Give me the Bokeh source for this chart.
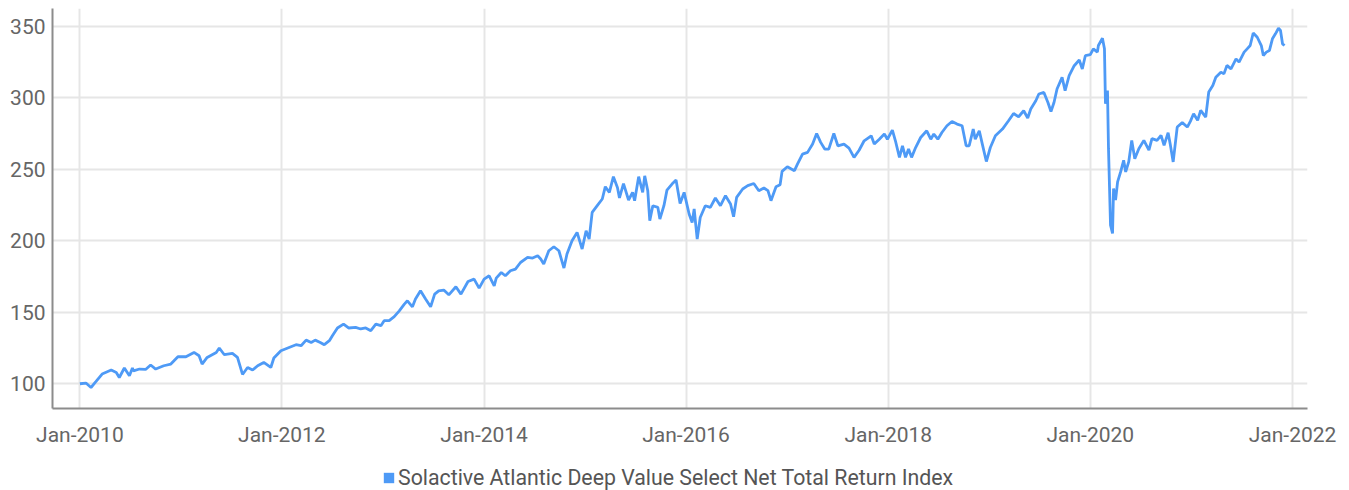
from datetime import datetime, timedelta
from bokeh.plotting import figure
from bokeh.layouts import column
from bokeh.models import (Range1d, FixedTicker, DatetimeTickFormatter, Legend, LegendItem,
                          ColumnDataSource)
from bokeh.embed import file_html
from bokeh.resources import INLINE

# ---------------- data (decimal year, index level) ----------------
series_name = "Solactive Atlantic Deep Value Select Net Total Return Index"

t_years = [
    2010.00, 2010.06, 2010.11, 2010.16, 2010.22, 2010.31, 2010.36, 2010.39, 2010.44, 2010.49,
    2010.52, 2010.53, 2010.59, 2010.65, 2010.70, 2010.75, 2010.83, 2010.90, 2010.97, 2011.05,
    2011.13, 2011.18, 2011.21, 2011.26, 2011.35, 2011.38, 2011.43, 2011.51, 2011.56, 2011.61,
    2011.66, 2011.71, 2011.76, 2011.82, 2011.89, 2011.92, 2011.99,
    2012.09, 2012.14, 2012.19, 2012.24, 2012.29, 2012.33, 2012.38, 2012.42, 2012.47, 2012.50,
    2012.55, 2012.61, 2012.66, 2012.73, 2012.78, 2012.83, 2012.88, 2012.93, 2012.98,
    2013.01, 2013.06, 2013.11, 2013.16, 2013.21, 2013.24, 2013.29, 2013.32, 2013.37, 2013.42,
    2013.47, 2013.51, 2013.55, 2013.60, 2013.65, 2013.72, 2013.77, 2013.84, 2013.90, 2013.95,
    2014.00, 2014.05, 2014.10, 2014.12, 2014.17, 2014.21, 2014.26, 2014.31, 2014.36, 2014.43,
    2014.48, 2014.53, 2014.56, 2014.59, 2014.64, 2014.69, 2014.74, 2014.79, 2014.82, 2014.87,
    2014.92, 2014.97,
    2015.01, 2015.04, 2015.07, 2015.12, 2015.17, 2015.20, 2015.24, 2015.28, 2015.32, 2015.34,
    2015.38, 2015.43, 2015.47, 2015.49, 2015.53, 2015.57, 2015.59, 2015.62, 2015.64, 2015.67,
    2015.72, 2015.74, 2015.78, 2015.81, 2015.86, 2015.90, 2015.94, 2015.98,
    2016.03, 2016.06, 2016.08, 2016.11, 2016.14, 2016.19, 2016.24, 2016.29, 2016.34, 2016.39,
    2016.44, 2016.47, 2016.50, 2016.56, 2016.61, 2016.67, 2016.72, 2016.77, 2016.81, 2016.84,
    2016.89, 2016.93, 2016.95,
    2017.00, 2017.07, 2017.10, 2017.15, 2017.20, 2017.25, 2017.29, 2017.33, 2017.37, 2017.41,
    2017.46, 2017.50, 2017.56, 2017.61, 2017.66, 2017.71, 2017.76, 2017.83, 2017.86, 2017.91,
    2017.96, 2017.99,
    2018.04, 2018.07, 2018.11, 2018.14, 2018.17, 2018.20, 2018.23, 2018.27, 2018.32, 2018.38,
    2018.42, 2018.45, 2018.49, 2018.53, 2018.58, 2018.63, 2018.68, 2018.73, 2018.77, 2018.80,
    2018.84, 2018.86, 2018.90, 2018.93, 2018.97,
    2019.01, 2019.06, 2019.13, 2019.19, 2019.24, 2019.29, 2019.34, 2019.38, 2019.41, 2019.46,
    2019.49, 2019.54, 2019.58, 2019.61, 2019.64, 2019.67, 2019.72, 2019.75, 2019.79, 2019.84,
    2019.89, 2019.92, 2019.95,
    2020.00, 2020.03, 2020.07, 2020.08, 2020.12, 2020.14, 2020.15, 2020.17, 2020.18, 2020.20,
    2020.22, 2020.23, 2020.25, 2020.27, 2020.30, 2020.33, 2020.35, 2020.38, 2020.41, 2020.44,
    2020.48, 2020.53, 2020.58, 2020.61, 2020.66, 2020.70, 2020.73, 2020.77, 2020.79, 2020.82,
    2020.86, 2020.91, 2020.96, 2020.99,
    2021.02, 2021.06, 2021.09, 2021.14, 2021.17, 2021.21, 2021.24, 2021.29, 2021.32, 2021.35,
    2021.39, 2021.44, 2021.47, 2021.52, 2021.55, 2021.58, 2021.61, 2021.65, 2021.69, 2021.71,
    2021.74, 2021.77, 2021.80, 2021.83, 2021.86, 2021.88, 2021.90, 2021.92,
]

index_values = [
    100.0, 100.5, 97.4, 101.6, 106.8, 109.6, 107.9, 104.4, 111.0, 105.6,
    111.0, 109.0, 110.3, 110.0, 113.1, 110.3, 112.6, 113.8, 118.9, 118.9,
    121.9, 119.6, 113.8, 118.4, 121.9, 125.0, 120.3, 121.2, 118.4, 106.5,
    111.4, 109.6, 112.6, 114.9, 111.4, 118.0, 123.1,
    125.9, 127.3, 126.6, 130.5, 128.9, 130.5, 128.9, 127.3, 130.1, 133.6,
    139.0, 141.7, 139.0, 139.4, 138.3, 139.0, 137.1, 141.7, 140.6,
    144.1, 144.1, 146.9, 151.0, 155.7, 158.0, 153.8, 159.2, 165.0, 159.2,
    153.8, 162.7, 165.0, 165.5, 162.2, 167.8, 162.7, 171.5, 173.2, 166.9,
    173.2, 175.5, 168.5, 173.9, 177.8, 175.5, 179.0, 180.2, 184.8, 188.3,
    187.9, 189.5, 187.2, 183.7, 193.0, 195.8, 193.0, 180.9, 190.7, 200.0,
    205.8, 194.2,
    207.0, 201.2, 219.8, 224.5, 229.2, 237.8, 233.8, 244.8, 237.3, 229.9,
    240.0, 228.5, 233.8, 228.0, 244.8, 233.8, 245.4, 235.0, 214.0, 224.5,
    223.3, 215.2, 224.5, 235.4, 239.6, 242.4, 226.1, 233.8,
    218.7, 212.8, 222.2, 201.2, 216.3, 224.5, 223.3, 229.9, 224.5, 231.5,
    225.7, 216.8, 230.3, 236.2, 238.5, 240.0, 235.0, 236.9, 235.0, 228.0,
    237.8, 239.2, 248.5,
    251.7, 249.0, 253.6, 260.6, 261.8, 267.6, 275.0, 268.8, 264.1, 264.1,
    275.0, 266.4, 267.6, 264.8, 258.3, 263.3, 269.9, 273.4, 267.6, 271.0,
    274.6, 271.0,
    277.4, 269.9, 258.3, 266.4, 258.3, 264.1, 258.3, 265.2, 272.2, 276.9,
    271.0, 274.6, 271.0, 275.7, 280.4, 283.4, 281.6, 280.4, 266.4, 266.4,
    278.1, 271.0, 276.9, 267.6, 255.4,
    265.2, 273.4, 278.1, 283.9, 289.0, 286.7, 290.9, 285.8, 292.1, 297.9,
    302.6, 303.7, 296.7, 290.4, 296.7, 306.1, 314.2, 304.9, 315.4, 322.4,
    326.4, 320.1, 329.4,
    330.1, 334.2, 331.9, 336.5, 341.6, 334.2, 295.8, 305.1, 264.4, 210.9,
    205.1, 236.5, 228.4, 241.2, 248.1, 256.3, 248.1, 255.1, 270.2, 257.4,
    264.4, 270.2, 263.3, 271.4, 270.2, 273.7, 266.7, 275.6, 267.9, 255.1,
    279.5, 282.6, 279.5, 283.5,
    288.8, 284.2, 291.2, 286.5, 304.0, 308.6, 314.4, 317.9, 316.7, 322.6,
    320.2, 327.2, 324.9, 331.9, 334.2, 336.5, 345.3, 342.3, 336.5, 329.5,
    331.9, 333.0, 341.2, 344.7, 348.6, 347.0, 337.7, 336.5,
]

y_ticks = [100, 150, 200, 250, 300, 350]
x_tick_years = [2010, 2012, 2014, 2016, 2018, 2020, 2022]


def dec_to_dt(y):
    yr = int(y)
    return datetime(yr, 1, 1) + timedelta(days=(y - yr) * 365.25)


dates = [dec_to_dt(y) for y in t_years]
src = ColumnDataSource(dict(date=dates, value=index_values))

FONT = "Roboto"
LINE_COLOR = "#4e9af6"

# ---------------- main chart ----------------
p = figure(width=1341, height=452, x_axis_type="datetime",
           output_backend="svg", toolbar_location=None,
           x_range=Range1d(datetime(2009, 9, 24), datetime(2022, 2, 24)),
           y_range=Range1d(82.7, 362.4),
           min_border_left=52, min_border_right=34, min_border_top=8, min_border_bottom=44)
p.outline_line_color = None
p.background_fill_color = "white"
p.border_fill_color = "white"

p.line("date", "value", source=src, line_color=LINE_COLOR, line_width=2.8)

tick_ms = [datetime(y, 1, 1).timestamp() * 1000 for y in x_tick_years]
p.xaxis.ticker = FixedTicker(ticks=tick_ms)
p.xaxis.formatter = DatetimeTickFormatter(years="%b-%Y", months="%b-%Y", days="%b-%Y",
                                          hours="%b-%Y", minutes="%b-%Y")
p.yaxis.ticker = FixedTicker(ticks=y_ticks)

for ax in (p.xaxis[0], p.yaxis[0]):
    ax.axis_line_color = "#8c8c8c"
    ax.axis_line_width = 2
    ax.major_tick_line_color = None
    ax.minor_tick_line_color = None
    ax.major_tick_out = 0
    ax.major_tick_in = 0
    ax.minor_tick_out = 0
    ax.minor_tick_in = 0
    ax.major_label_text_font = FONT
    ax.major_label_text_font_size = "21px"
    ax.major_label_text_color = "#666666"
p.yaxis.major_label_standoff = 7
p.xaxis.major_label_standoff = 14

p.xgrid.ticker = FixedTicker(ticks=tick_ms)
p.ygrid.ticker = FixedTicker(ticks=y_ticks)
for g in (p.xgrid[0], p.ygrid[0]):
    g.grid_line_color = "#e6e6e6"
    g.grid_line_width = 2

# ---------------- legend strip ----------------
lg = figure(width=1341, height=38, output_backend="svg", toolbar_location=None,
            x_range=Range1d(0, 1), y_range=Range1d(0, 1),
            min_border_left=0, min_border_right=0, min_border_top=0, min_border_bottom=0,
            x_axis_location=None, y_axis_location=None)
lg.grid.visible = False
lg.outline_line_color = None
lg.background_fill_color = "white"
lg.border_fill_color = "white"
nan = float("nan")
sw = lg.quad(left=[nan], right=[nan], top=[nan], bottom=[nan],
             fill_color=LINE_COLOR, line_color=None)
legend = Legend(items=[LegendItem(label=series_name, renderers=[sw])],
                orientation="horizontal", location=(330, 0),
                label_text_font=FONT, label_text_font_size="21.3px", label_text_color="#555555",
                glyph_width=13, glyph_height=13, label_standoff=3,
                border_line_color=None, background_fill_alpha=0, border_line_alpha=0,
                padding=0, margin=0, spacing=0)
lg.add_layout(legend, "center")

layout = column(p, lg, spacing=0)
open("out.html", "w").write(file_html(layout, INLINE))
